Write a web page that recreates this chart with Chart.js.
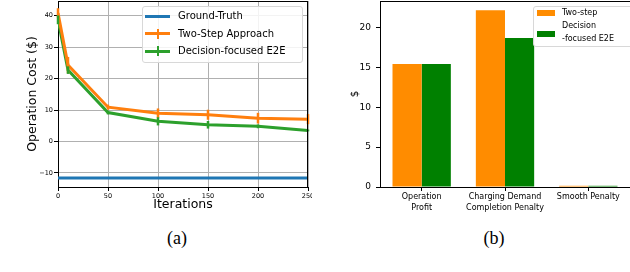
<!DOCTYPE html>
<html>
<head>
<meta charset="utf-8">
<script src="https://cdn.jsdelivr.net/npm/chart.js@4.4.1/dist/chart.umd.min.js"></script>
<style>
  html, body { margin: 0; padding: 0; background: #fff; }
  body { width: 630px; height: 272px; position: relative; overflow: hidden; font-family: "DejaVu Sans", sans-serif; }
  canvas { position: absolute; top: 0; }
  #costChart { left: 0; }
  #breakdownChart { left: 320px; }
  .legend { position: absolute; background: rgba(255,255,255,0.85); border: 1px solid #d8d8d8; border-radius: 3px; }
  .lg-text { position: absolute; color: #000; white-space: nowrap; line-height: 1; }
  .lg-line { position: absolute; height: 3px; }
  .lg-err { position: absolute; width: 2.5px; }
  .lg-patch { position: absolute; }
  .caption { position: absolute; font-family: "Liberation Serif", "Times New Roman", serif; font-size: 18px; line-height: 1; transform: translateX(-50%); }
</style>
</head>
<body>
<canvas id="costChart" width="312" height="215"></canvas>
<canvas id="breakdownChart" width="310" height="215"></canvas>

<div class="legend" style="left:142px; top:6px; width:159px; height:55px;"></div>
<div class="lg-line" style="left:145px; top:14.5px; width:25px; background:#1f77b4;"></div>
<div class="lg-text" style="left:178px; top:11px; font-size:10px;">Ground-Truth</div>
<div class="lg-line" style="left:145px; top:32px; width:25px; background:#ff7f0e;"></div>
<div class="lg-err" style="left:156.5px; top:28.5px; height:10px; background:#ff7f0e;"></div>
<div class="lg-text" style="left:178px; top:28.5px; font-size:10px;">Two-Step Approach</div>
<div class="lg-line" style="left:145px; top:49.5px; width:25px; background:#2ca02c;"></div>
<div class="lg-err" style="left:156.5px; top:46px; height:10px; background:#2ca02c;"></div>
<div class="lg-text" style="left:178px; top:46px; font-size:10px;">Decision-focused E2E</div>

<div class="legend" style="left:533px; top:6px; width:110px; height:39px;"></div>
<div class="lg-patch" style="left:537px; top:10px; width:18px; height:6px; background:darkorange;"></div>
<div class="lg-text" style="left:562px; top:9px; font-size:8px;">Two-step</div>
<div class="lg-patch" style="left:537px; top:30.5px; width:18px; height:6px; background:green;"></div>
<div class="lg-text" style="left:562px; top:22px; font-size:8px;">Decision</div>
<div class="lg-text" style="left:562px; top:35px; font-size:8px;">-focused E2E</div>

<div class="caption" style="left:177px; top:229px;">(a)</div>
<div class="caption" style="left:494px; top:229px;">(b)</div>

<script>
// (a) operation cost over training iterations
const iterations = [0, 10, 50, 100, 150, 200, 250];
const groundTruth = -11.6;
const twoStepCost = [40.9, 24.3, 10.9, 9.0, 8.5, 7.4, 7.1];
const twoStepErr = [1.5, 2.6, 0.8, 1.5, 1.6, 1.7, 1.6];
const e2eCost = [38.7, 22.7, 9.2, 6.4, 5.3, 4.8, 3.5];
const e2eErr = [1.4, 1.2, 0.6, 1.3, 1.2, 0.6, 0.3];

// (b) cost breakdown
const components = [["Operation", "Profit"], ["Charging Demand", "Completion Penalty"], "Smooth Penalty"];
const twoStepParts = [15.4, 22.15, 0.15];
const e2eParts = [15.4, 18.65, 0.15];

const costTicks = [-10, 0, 10, 20, 30, 40];
const iterTicks = [0, 50, 100, 150, 200, 250];

Chart.defaults.font.family = "'DejaVu Sans', sans-serif";
Chart.defaults.color = "#000";
Chart.defaults.animation = false;

const toPoints = (ys) => iterations.map((x, i) => ({ x: x, y: ys[i] }));

// fixed axis boxes, no extra label padding
const fixWidth = (w) => (s) => { s.width = w; s.paddingTop = 0; s.paddingBottom = 0; };
const fixHeight = (h) => (s) => { s.height = h; s.paddingLeft = 0; s.paddingRight = 0; };

// draws the vertical error bars through the library scales
const errorBars = {
    id: "errorBars",
    afterDatasetsDraw(chart) {
        const ctx = chart.ctx;
        const xs = chart.scales.x, ys = chart.scales.y;
        chart.data.datasets.forEach((ds) => {
            if (!ds.errs) return;
            ctx.save();
            ctx.strokeStyle = ds.borderColor;
            ctx.lineWidth = 2.5;
            ds.data.forEach((p, i) => {
                const px = xs.getPixelForValue(p.x);
                ctx.beginPath();
                ctx.moveTo(px, ys.getPixelForValue(p.y - ds.errs[i]));
                ctx.lineTo(px, ys.getPixelForValue(p.y + ds.errs[i]));
                ctx.stroke();
            });
            ctx.restore();
        });
    }
};

const frame = {
    id: "frame",
    afterDraw(chart, args, opts) {
        const { left, right, top, bottom } = chart.chartArea;
        const ctx = chart.ctx;
        ctx.save();
        ctx.strokeStyle = "#000";
        ctx.lineWidth = 1;
        ctx.beginPath();
        ctx.moveTo(left, top + 0.5);
        ctx.lineTo(right, top + 0.5);
        if (opts.right) {
            ctx.moveTo(right - 0.5, top);
            ctx.lineTo(right - 0.5, bottom);
        }
        ctx.stroke();
        ctx.restore();
    }
};

const minus = (v) => String(v).replace("-", "\u2212");

new Chart(document.getElementById("costChart"), {
    type: "line",
    data: {
        datasets: [
            {
                label: "Ground-Truth",
                data: toPoints(iterations.map(() => groundTruth)),
                borderColor: "#1f77b4",
                borderWidth: 3,
                pointRadius: 0
            },
            {
                label: "Two-Step Approach",
                data: toPoints(twoStepCost),
                errs: twoStepErr,
                borderColor: "#ff7f0e",
                borderWidth: 3,
                pointRadius: 0
            },
            {
                label: "Decision-focused E2E",
                data: toPoints(e2eCost),
                errs: e2eErr,
                borderColor: "#2ca02c",
                borderWidth: 3,
                pointRadius: 0
            }
        ]
    },
    options: {
        responsive: false,
        devicePixelRatio: 1,
        layout: { padding: { top: 1, right: 4, left: 0, bottom: 0 } },
        plugins: { legend: { display: false }, tooltip: { enabled: false }, frame: { right: true } },
        scales: {
            x: {
                type: "linear",
                min: 0,
                max: 250,
                afterFit: fixHeight(28),
                afterBuildTicks: (s) => { s.ticks = iterTicks.map((v) => ({ value: v })); },
                ticks: { font: { size: 6.5 }, padding: 1, maxRotation: 0 },
                grid: { color: "#b0b0b0", lineWidth: 1, tickLength: 4, tickColor: "#000" },
                border: { color: "#000", width: 1 },
                title: { display: true, text: "Iterations", font: { size: 12.5 }, padding: { top: 0, bottom: 3 } }
            },
            y: {
                min: -14.5,
                max: 44.7,
                afterFit: fixWidth(58),
                afterBuildTicks: (s) => { s.ticks = costTicks.map((v) => ({ value: v })); },
                ticks: { font: { size: 6.5 }, padding: 1, callback: minus },
                grid: { color: "#b0b0b0", lineWidth: 1, tickLength: 4, tickColor: "#000" },
                border: { color: "#000", width: 1 },
                title: { display: true, text: "Operation Cost ($)", font: { size: 12.5 }, padding: { top: 25, bottom: 0 } }
            }
        }
    },
    plugins: [errorBars, frame]
});

new Chart(document.getElementById("breakdownChart"), {
    type: "bar",
    data: {
        labels: components,
        datasets: [
            { label: "Two-step", data: twoStepParts, backgroundColor: "darkorange", barPercentage: 1, categoryPercentage: 0.7 },
            { label: "Decision -focused E2E", data: e2eParts, backgroundColor: "green", barPercentage: 1, categoryPercentage: 0.7 }
        ]
    },
    options: {
        responsive: false,
        devicePixelRatio: 1,
        layout: { padding: { top: 1, right: 0, left: 0, bottom: 0 } },
        plugins: { legend: { display: false }, tooltip: { enabled: false }, frame: { right: false } },
        scales: {
            x: {
                afterFit: fixHeight(28),
                ticks: { font: { size: 8, lineHeight: 1.35 }, padding: 1, maxRotation: 0, autoSkip: false },
                grid: { drawOnChartArea: false, offset: false, tickLength: 4, tickColor: "#000" },
                border: { color: "#000", width: 1 }
            },
            y: {
                min: 0,
                max: 23.3,
                afterFit: fixWidth(60),
                ticks: { stepSize: 5, includeBounds: false, font: { size: 9 }, padding: 5 },
                grid: { drawOnChartArea: false, tickLength: 4, tickColor: "#000" },
                border: { color: "#000", width: 1 },
                title: { display: true, text: "$", font: { size: 10.5 }, padding: { top: 28.5, bottom: 0 } }
            }
        }
    },
    plugins: [frame]
});
</script>
</body>
</html>
